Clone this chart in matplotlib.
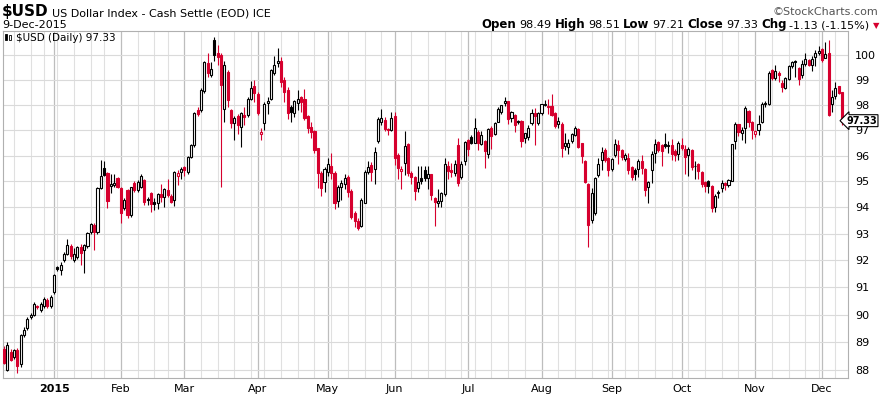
import numpy as np
import pandas as pd
import matplotlib
matplotlib.use('Agg')
import matplotlib.pyplot as plt
from matplotlib.patches import Rectangle

plt.rcParams['font.family'] = ['Liberation Sans Narrow', 'DejaVu Sans']

# daily OHLC of $USD, 10-Dec-2014 .. 9-Dec-2015
opens = [88.75, 88.00, 88.65, 88.45, 88.70, 88.20, 89.25, 89.50, 89.92, 89.97, 90.30, 90.15, 90.32, 90.55, 90.30,
         90.82, 91.75, 91.64, 92.00, 92.24, 92.55, 92.01, 92.14, 92.51, 92.38, 92.53, 93.08, 93.33, 93.08, 94.74,
         95.50, 95.31, 94.83, 94.87, 95.12, 94.73, 93.96, 94.67, 93.71, 94.92, 94.67, 94.79, 95.05, 94.32, 94.55,
         94.19, 94.15, 94.51, 94.41, 94.67, 94.44, 94.27, 95.22, 95.38, 95.55, 95.38, 95.96, 96.41, 97.79, 97.79,
         98.53, 99.66, 99.19, 100.63, 100.07, 100.00, 97.85, 99.33, 97.79, 97.26, 97.55, 97.13, 97.60, 97.59, 98.25,
         98.74, 98.42, 96.84, 97.26, 98.09, 98.25, 99.26, 99.66, 99.76, 98.98, 98.60, 97.90, 97.66, 98.08, 98.30,
         98.22, 97.55, 97.13, 96.97, 96.29, 95.31, 94.96, 95.38, 95.60, 95.34, 94.26, 94.77, 94.90, 95.18, 94.64,
         93.77, 93.50, 93.29, 94.18, 95.38, 95.64, 95.47, 96.55, 97.33, 97.40, 97.05, 97.00, 97.55, 96.03, 95.40,
         95.72, 96.45, 95.31, 95.15, 94.73, 95.12, 95.44, 95.12, 95.28, 94.35, 94.18, 94.26, 94.50, 95.60, 95.44,
         95.34, 96.42, 95.18, 95.80, 96.61, 96.74, 96.50, 96.94, 96.44, 96.57, 96.07, 97.10, 96.85, 97.33, 97.72,
         98.08, 98.14, 97.46, 97.59, 97.37, 97.37, 96.68, 96.71, 97.26, 97.68, 97.29, 97.66, 97.99, 97.95, 97.95,
         97.66, 97.24, 97.24, 96.38, 96.33, 96.55, 96.81, 97.03, 96.48, 95.79, 94.90, 93.51, 93.77, 95.25, 95.81,
         96.22, 95.90, 95.47, 96.03, 96.41, 96.22, 95.86, 95.90, 95.57, 95.44, 95.47, 95.80, 95.48, 94.77, 95.44,
         96.09, 96.54, 96.41, 96.44, 96.36, 96.42, 96.18, 96.07, 96.42, 96.26, 96.03, 96.20, 95.61, 95.66, 95.38,
         94.99, 95.00, 94.82, 94.00, 94.54, 94.73, 94.95, 94.86, 95.03, 96.58, 97.24, 96.87, 97.07, 97.75, 97.30,
         96.84, 97.00, 97.33, 98.03, 98.05, 99.39, 99.09, 99.26, 98.88, 98.65, 99.05, 99.54, 99.76, 99.49, 99.19,
         99.64, 99.80, 99.60, 99.90, 100.09, 100.23, 99.86, 100.07, 98.03, 98.34, 98.75, 98.49]
highs = [88.85, 89.00, 88.75, 88.75, 88.80, 89.30, 89.55, 89.90, 90.05, 90.45, 90.35, 90.45, 90.65, 90.62, 90.72,
         91.50, 91.80, 91.95, 92.30, 92.80, 92.60, 92.45, 92.55, 92.60, 92.62, 93.05, 93.42, 93.40, 94.78, 95.83,
         95.80, 95.35, 95.28, 95.28, 95.15, 94.78, 94.35, 94.70, 94.80, 95.00, 95.05, 95.28, 95.10, 94.40, 94.60,
         94.35, 94.56, 94.88, 94.75, 95.10, 94.50, 95.40, 95.45, 95.55, 95.60, 96.00, 96.45, 97.70, 97.92, 98.65,
         99.75, 100.10, 99.70, 100.75, 100.40, 100.10, 99.75, 99.40, 97.85, 97.55, 97.62, 97.70, 97.90, 98.30, 98.97,
         99.00, 98.50, 97.10, 98.10, 98.30, 99.42, 99.95, 100.27, 99.90, 99.10, 98.70, 98.00, 98.20, 98.60, 98.35,
         98.62, 97.60, 97.33, 97.00, 96.30, 95.40, 95.55, 95.90, 96.10, 95.40, 94.85, 95.05, 95.30, 95.25, 94.70,
         93.85, 93.60, 94.35, 95.42, 95.80, 95.75, 96.35, 97.50, 97.85, 97.50, 97.10, 97.70, 97.70, 96.10, 95.60,
         96.95, 96.50, 95.40, 95.20, 95.60, 95.60, 95.60, 95.60, 95.30, 94.40, 94.70, 94.60, 95.90, 95.77, 95.72,
         95.82, 96.70, 95.80, 96.55, 96.65, 96.80, 97.46, 97.00, 96.95, 96.60, 97.10, 97.15, 97.30, 97.90, 98.00,
         98.30, 98.15, 97.75, 97.62, 97.40, 97.40, 96.90, 97.20, 97.85, 97.88, 97.70, 98.05, 98.20, 98.25, 98.42,
         97.70, 97.50, 97.30, 96.90, 96.65, 96.90, 97.15, 97.10, 96.50, 95.83, 94.95, 94.75, 95.15, 95.90, 96.35,
         96.30, 95.95, 95.90, 96.65, 96.60, 96.25, 96.10, 96.09, 95.60, 95.50, 95.86, 96.03, 95.50, 95.00, 96.16,
         96.64, 96.58, 96.45, 96.87, 96.55, 96.66, 96.25, 96.58, 96.68, 96.40, 96.33, 96.25, 95.80, 95.70, 95.40,
         95.00, 95.05, 94.85, 94.50, 94.67, 95.05, 94.98, 95.10, 96.46, 97.33, 97.25, 97.13, 97.95, 97.80, 97.35,
         97.00, 97.59, 98.12, 98.16, 99.35, 99.43, 99.60, 99.35, 98.99, 99.10, 99.60, 99.75, 99.78, 99.50, 99.78,
         100.07, 99.82, 99.95, 100.20, 100.36, 100.27, 100.54, 100.60, 98.59, 98.90, 98.77, 98.51]
lows = [88.20, 87.95, 88.30, 88.40, 87.90, 88.10, 89.20, 89.45, 89.85, 89.95, 90.20, 90.10, 90.25, 90.25, 90.25,
        90.75, 91.60, 91.45, 91.95, 92.20, 92.05, 91.95, 92.05, 91.83, 91.52, 92.45, 93.00, 92.40, 93.00, 94.70,
        95.20, 93.97, 94.55, 94.80, 94.75, 93.39, 93.90, 93.58, 93.65, 94.60, 94.60, 94.75, 94.10, 94.10, 93.84,
        93.90, 93.93, 94.20, 94.00, 94.40, 94.18, 94.07, 94.85, 95.10, 95.20, 95.30, 95.90, 96.35, 97.55, 97.72,
        98.45, 99.10, 99.10, 99.75, 99.60, 94.80, 97.33, 97.90, 97.10, 96.60, 96.85, 96.33, 97.20, 97.50, 98.20,
        98.10, 97.60, 96.60, 97.00, 97.65, 98.20, 99.20, 99.50, 98.70, 98.10, 97.45, 97.30, 97.50, 97.80, 97.70,
        97.40, 96.90, 96.70, 96.10, 94.73, 94.45, 94.60, 95.20, 95.10, 93.95, 94.00, 94.30, 94.70, 94.40, 93.55,
        93.25, 93.15, 93.25, 94.15, 95.30, 95.00, 94.90, 96.50, 97.20, 96.96, 96.80, 96.95, 95.65, 95.10, 94.70,
        95.25, 95.20, 94.90, 94.28, 94.60, 94.90, 95.00, 94.72, 94.28, 93.29, 94.03, 94.00, 94.45, 95.10, 95.18,
        95.20, 94.82, 95.10, 95.64, 96.00, 96.45, 96.48, 96.20, 96.40, 95.53, 95.90, 96.24, 96.80, 97.30, 97.65,
        97.95, 97.23, 97.30, 96.93, 97.25, 96.35, 96.50, 96.60, 97.20, 96.40, 97.20, 97.60, 97.95, 97.65, 97.55,
        97.10, 97.10, 95.94, 96.20, 96.05, 96.50, 96.75, 96.30, 95.73, 94.95, 92.51, 93.40, 93.70, 95.18, 95.45,
        95.75, 95.21, 95.40, 95.96, 95.68, 95.83, 95.80, 95.30, 95.05, 95.07, 95.18, 95.30, 94.44, 94.18, 94.95,
        95.70, 96.15, 95.60, 96.30, 96.10, 95.83, 95.80, 95.83, 96.20, 95.28, 95.20, 95.44, 95.08, 95.08, 94.80,
        94.60, 94.57, 93.84, 93.84, 94.35, 94.60, 94.65, 94.77, 95.00, 96.24, 96.77, 96.61, 96.49, 97.13, 96.63,
        96.74, 96.81, 97.26, 97.92, 97.99, 98.98, 98.98, 98.92, 98.50, 98.61, 99.00, 99.47, 99.10, 98.79, 99.06,
        99.54, 99.55, 99.35, 99.55, 100.00, 99.73, 99.86, 97.56, 97.73, 98.24, 98.44, 97.21]
closes = [88.25, 88.90, 88.35, 88.70, 88.15, 89.25, 89.45, 89.85, 89.97, 90.40, 90.27, 90.38, 90.58, 90.30, 90.65,
          91.46, 91.68, 91.82, 92.23, 92.56, 92.15, 92.24, 92.49, 92.29, 92.56, 93.01, 93.36, 93.08, 94.73, 95.22,
          95.24, 94.26, 94.90, 94.95, 94.80, 93.77, 94.28, 93.71, 94.77, 94.67, 94.99, 95.22, 94.22, 94.27, 94.13,
          94.14, 94.51, 94.41, 94.69, 94.47, 94.22, 95.36, 95.33, 95.47, 95.45, 95.96, 96.41, 97.66, 97.63, 98.59,
          99.73, 99.26, 99.42, 100.00, 99.93, 98.79, 99.60, 98.19, 97.29, 97.46, 97.20, 97.66, 97.50, 98.25, 98.65,
          98.45, 97.66, 96.93, 98.05, 98.15, 99.39, 99.60, 99.76, 98.92, 98.52, 97.66, 97.70, 98.15, 98.22, 98.10,
          97.46, 97.10, 96.94, 96.20, 95.31, 94.73, 95.47, 95.68, 95.34, 94.18, 94.77, 94.95, 95.12, 94.60, 93.65,
          93.50, 93.20, 94.28, 95.38, 95.55, 95.38, 96.13, 97.42, 97.46, 97.03, 97.00, 97.46, 95.90, 95.50, 95.48,
          96.38, 95.31, 95.18, 94.64, 94.99, 95.03, 95.12, 95.28, 94.47, 94.22, 94.26, 94.54, 95.66, 95.41, 95.38,
          95.68, 94.95, 95.68, 96.52, 96.26, 96.48, 97.07, 96.48, 96.80, 96.16, 97.03, 96.77, 97.26, 97.82, 97.98,
          98.14, 97.42, 97.70, 97.20, 97.33, 96.58, 96.87, 97.07, 97.68, 97.55, 97.66, 98.03, 98.05, 97.90, 97.59,
          97.16, 97.37, 96.29, 96.48, 96.49, 96.85, 97.07, 96.35, 95.99, 94.99, 93.33, 94.54, 95.12, 95.66, 96.13,
          95.83, 95.44, 95.86, 96.44, 96.22, 95.96, 96.03, 95.44, 95.18, 95.28, 95.77, 95.51, 94.67, 94.99, 96.07,
          96.44, 96.20, 96.16, 96.38, 96.42, 96.07, 96.03, 96.48, 96.29, 95.96, 96.27, 95.57, 95.58, 95.41, 94.90,
          94.82, 94.83, 93.96, 94.44, 94.60, 94.95, 94.86, 95.05, 96.44, 97.24, 96.94, 97.00, 97.86, 97.33, 97.00,
          96.97, 97.22, 98.03, 98.08, 99.26, 99.06, 99.37, 99.19, 98.70, 99.09, 99.55, 99.72, 99.73, 99.05, 99.64,
          99.82, 99.60, 99.82, 100.07, 100.17, 99.80, 100.04, 97.60, 98.32, 98.66, 98.46, 97.33]

holidays = ['2014-12-25', '2015-01-01', '2015-01-19', '2015-02-16', '2015-04-03',
            '2015-05-25', '2015-07-03', '2015-09-07', '2015-11-26']
month_names = ['2015', 'Feb', 'Mar', 'Apr', 'May', 'Jun', 'Jul', 'Aug', 'Sep', 'Oct', 'Nov', 'Dec']
y_ticks = list(range(88, 101))

RED = '#d6002e'
W, H = 884, 397

dates = pd.bdate_range('2014-12-10', '2015-12-09')
dates = dates[~dates.isin(pd.to_datetime(holidays))]
n = len(closes)
dates = dates[:n]

fig = plt.figure(figsize=(W / 100, H / 100), dpi=100)
ax = fig.add_axes([2.5 / W, 19 / H, 845.5 / W, 347 / H])
ax.set_yscale('log')
ax.set_ylim(87.71, 100.98)
ax.set_xlim(-0.45, n + 0.8)

# grid: weekly light lines, monthly darker lines
week_start = [i for i in range(1, n) if dates[i].weekday() < dates[i - 1].weekday()]
month_start = [i for i in range(1, n) if dates[i].month != dates[i - 1].month]
for i in week_start:
    if i not in month_start:
        ax.axvline(i, color='#e0e0e0', lw=0.8, zorder=0)
for i in month_start:
    ax.axvline(i, color='#bdbdbd', lw=0.9, zorder=0)
for v in y_ticks:
    ax.axhline(v, color='#dadada', lw=0.8, zorder=0)

# candles
for i in range(n):
    o, h, l, c = opens[i], highs[i], lows[i], closes[i]
    prev = closes[i - 1] if i > 0 else o
    col = RED if c < prev else 'black'
    ax.vlines(i, l, h, color=col, lw=0.8, zorder=2)
    lo, hi = min(o, c), max(o, c)
    face = 'white' if c > o else col
    ax.add_patch(Rectangle((i - 0.31, lo), 0.62, hi - lo, facecolor=face,
                           edgecolor=col, lw=0.8, zorder=3))

for s in ax.spines.values():
    s.set_color('#b0b0b0')
    s.set_linewidth(0.8)

ax.yaxis.tick_right()
ax.set_yticks(y_ticks)
ax.set_yticklabels([str(v) for v in y_ticks])
ax.yaxis.set_minor_locator(matplotlib.ticker.NullLocator())
ax.tick_params(axis='y', length=0, pad=5, labelsize=8)

ax.set_xticks(month_start)
ax.set_xticklabels(month_names)
ax.tick_params(axis='x', length=0, pad=4, labelsize=8)
ax.get_xticklabels()[0].set_fontweight('bold')

# last value flag, right-aligned near the picture edge
flag_y = ax.transData.transform((0, closes[-1]))[1]
fig.text(877 / W, (flag_y + 1) / H, '%.2f' % closes[-1], ha='right', va='center',
         fontsize=7, fontweight='bold', zorder=5,
         bbox=dict(boxstyle='larrow,pad=0.1', fc='white', ec='black', lw=0.8))

# header
renderer = fig.canvas.get_renderer()


def row(pieces, x, y, align='left'):
    texts = []
    for s, kw in pieces:
        texts.append(fig.text(0, y / H, s, va='baseline', **kw))
    widths = [t.get_window_extent(renderer).width for t in texts]
    total = sum(widths) + 3 * (len(texts) - 1)
    cx = x - total if align == 'right' else x
    for t, w in zip(texts, widths):
        t.set_x(cx / W)
        cx += w + 3


row([('$USD', dict(fontsize=11, fontweight='bold')),
     ('US Dollar Index - Cash Settle (EOD) ICE', dict(fontsize=8))], 2, H - 16)
fig.text(2 / W, 1 - 28 / H, '9-Dec-2015', fontsize=8, va='baseline')
fig.text(878 / W, 1 - 15 / H, '\u00a9StockCharts.com', fontsize=8, color='#555555',
         ha='right', va='baseline')
row([('Open', dict(fontsize=8.5, fontweight='bold')), ('98.49', dict(fontsize=8)),
     ('High', dict(fontsize=8.5, fontweight='bold')), ('98.51', dict(fontsize=8)),
     ('Low', dict(fontsize=8.5, fontweight='bold')), ('97.21', dict(fontsize=8)),
     ('Close', dict(fontsize=8.5, fontweight='bold')), ('97.33', dict(fontsize=8)),
     ('Chg', dict(fontsize=8.5, fontweight='bold')), ('-1.13 (-1.15%)', dict(fontsize=8)),
     ('\u25bc', dict(fontsize=6, color=RED, family='DejaVu Sans'))], 879, H - 28, align='right')

# legend inside the plot: small candle icon + series name
fig.text(16 / W, 1 - 41 / H, '$USD (Daily) 97.33', fontsize=7.5, va='baseline',
         family='DejaVu Sans')
for k, (x0, y0, hgt) in enumerate([(5, 34, 6), (9, 35, 5)]):
    fig.patches.append(Rectangle((x0 / W, 1 - (y0 + hgt) / H), 2 / W, hgt / H,
                                 transform=fig.transFigure, facecolor='white' if k else 'black',
                                 edgecolor='black', lw=0.6))

fig.savefig('out.png', dpi=100)
